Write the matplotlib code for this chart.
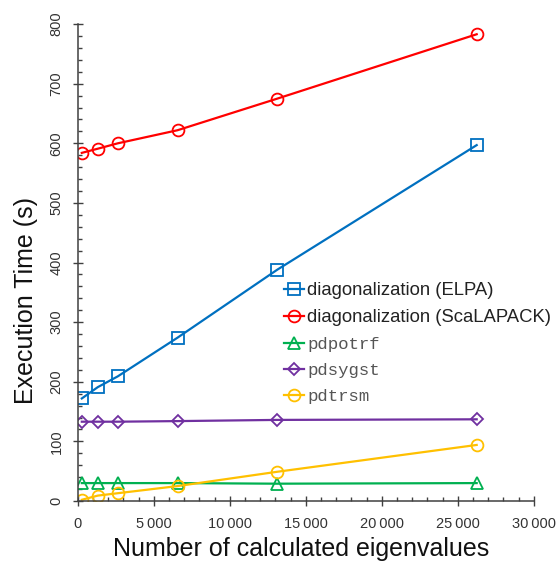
import matplotlib

matplotlib.use("Agg")

import matplotlib.pyplot as plt
from matplotlib.ticker import FuncFormatter, MultipleLocator

# eigenvalues computed: 1, 5, 10, 25, 50 and 100 % of N = 26244
n_eigen = [262, 1312, 2624, 6561, 13122, 26244]

elpa = [172, 191, 209, 274, 388, 597]
scalapack = [584, 591, 600, 622, 675, 783]
pdpotrf = [30, 30, 30, 30, 29, 30]
pdsygst = [133, 133, 133, 134, 136, 137]
pdtrsm = [2, 9, 13, 25, 49, 94]

series = [
    ("diagonalization (ELPA)", elpa, "#0070c0", "s", 8, "sans"),
    ("diagonalization (ScaLAPACK)", scalapack, "#ff0000", "o", 8.5, "sans"),
    ("pdpotrf", pdpotrf, "#00b050", "^", 8.5, "mono"),
    ("pdsygst", pdsygst, "#7030a0", "D", 6.5, "mono"),
    ("pdtrsm", pdtrsm, "#ffc000", "o", 8.5, "mono"),
]

plt.rcParams["font.family"] = ["Liberation Sans", "DejaVu Sans"]
axis_grey = "#404040"

fig = plt.figure(figsize=(5.56, 5.61), dpi=100)
ax = fig.add_axes([0.140, 0.107, 0.820, 0.850])

for label, values, color, marker, ms, _ in series:
    ax.plot(n_eigen, values, color=color, lw=1.6, marker=marker, ms=ms,
            mfc="none", mec=color, mew=1.3, label=label)

ax.set_xlim(0, 30000)
ax.set_ylim(0, 800)
ax.xaxis.set_major_locator(MultipleLocator(5000))
ax.xaxis.set_minor_locator(MultipleLocator(1000))
ax.yaxis.set_major_locator(MultipleLocator(100))
ax.yaxis.set_minor_locator(MultipleLocator(20))
ax.xaxis.set_major_formatter(
    FuncFormatter(lambda v, _: f"{int(v):,}".replace(",", "\u2009")))

for side in ("top", "right"):
    ax.spines[side].set_visible(False)
for side in ("left", "bottom"):
    ax.spines[side].set_color(axis_grey)
    ax.spines[side].set_linewidth(1.1)

ax.tick_params(which="major", direction="inout", length=6.5, width=1,
               color=axis_grey, labelcolor="#333333", labelsize=10.5)
ax.tick_params(which="minor", direction="in", length=3, width=1,
               color=axis_grey)
ax.tick_params(axis="x", which="major", pad=8)
ax.tick_params(axis="y", which="major", pad=7)
for lbl in ax.get_yticklabels():
    lbl.set_rotation(90)
    lbl.set_va("center")

ax.set_xlabel("Number of calculated eigenvalues", fontsize=18, color="#111111")
ax.set_ylabel("Execution Time (s)", fontsize=18, color="#111111")
ax.xaxis.set_label_coords(0.49, -0.075)
ax.yaxis.set_label_coords(-0.088, 0.42)

leg = ax.legend(loc="upper left", bbox_to_anchor=(284 / 556, 1 - 282 / 561),
                bbox_transform=fig.transFigure, frameon=False, fontsize=13.3,
                handlelength=1.1, handletextpad=0.15, labelspacing=0.55,
                borderpad=0, borderaxespad=0)
for text, (_, _, _, _, _, kind) in zip(leg.get_texts(), series):
    if kind == "mono":
        text.set_family(["Liberation Mono", "DejaVu Sans Mono"])
        text.set_color("#555555")
        text.set_fontsize(12.5)
    else:
        text.set_color("#222222")

fig.savefig("out.png", dpi=100)
plt.close(fig)
